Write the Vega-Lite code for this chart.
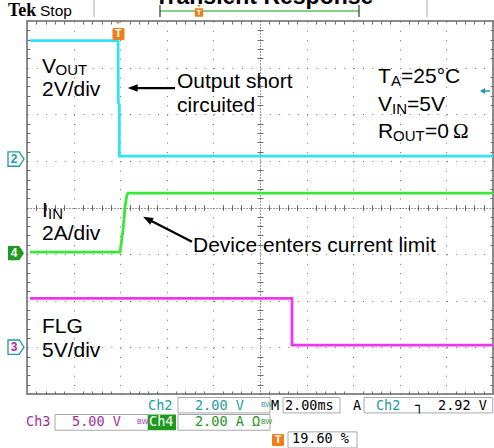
{
"$schema": "https://vega.github.io/schema/vega-lite/v6.json",
"width": 466, "height": 373,
"autosize": {"type": "none"},
"padding": {"left": 27, "top": 21, "right": 1, "bottom": 54},
"background": "white",
"config": {"view": {"stroke": "#8c8c8c", "strokeWidth": 2}},
"encoding": {
  "x": {"field": "x", "type": "quantitative", "scale": {"domain": [0, 10], "nice": false, "zero": false},
    "axis": {"orient": "bottom", "title": null, "labels": false, "ticks": false, "domain": false, "grid": true, "gridWidth": 1,
      "values": [0,0.2,0.4,0.6,0.8,1,1.2,1.4,1.6,1.8,2,2.2,2.4,2.6,2.8,3,3.2,3.4,3.6,3.8,4,4.2,4.4,4.6,4.8,5,5.2,5.4,5.6,5.8,6,6.2,6.4,6.6,6.8,7,7.2,7.4,7.6,7.8,8,8.2,8.4,8.6,8.8,9,9.2,9.4,9.6,9.8,10],
      "gridColor": {"condition": {"test": "abs(datum.value-5)<0.01", "value": "#333333"}, "value": "#6f6f6f"},
      "gridDash": {"condition": [{"test": "abs(datum.value-5)<0.01", "value": [1, 2]}, {"test": "abs(datum.value-round(datum.value))<0.01", "value": [1, 8.32]}], "value": [3, 180.5, 6, 180.5, 3, 400]}}},
  "y": {"field": "y", "type": "quantitative", "scale": {"domain": [0, 8], "nice": false, "zero": false},
    "axis": {"orient": "left", "title": null, "labels": false, "ticks": false, "domain": false, "grid": true, "gridWidth": 1,
      "values": [0,0.2,0.4,0.6,0.8,1,1.2,1.4,1.6,1.8,2,2.2,2.4,2.6,2.8,3,3.2,3.4,3.6,3.8,4,4.2,4.4,4.6,4.8,5,5.2,5.4,5.6,5.8,6,6.2,6.4,6.6,6.8,7,7.2,7.4,7.6,7.8,8],
      "gridColor": {"condition": {"test": "abs(datum.value-4)<0.01", "value": "#333333"}, "value": "#6f6f6f"},
      "gridDash": {"condition": [{"test": "abs(datum.value-4)<0.01", "value": [1, 2]}, {"test": "abs(datum.value-round(datum.value))<0.01", "value": [1, 8.32]}], "value": [3, 227, 6, 227, 3, 400]}}}
},
"layer": [
  {
    "data": {"values": [
      {"x": -0.408, "y": 8.107, "t": "Tek"}
    ]},
    "mark": {"type": "text", "font": "Liberation Serif", "fontWeight": "bold", "fontSize": 18, "align": "left", "baseline": "alphabetic", "color": "#000"},
    "encoding": {"text": {"field": "t"}}
  },
  {
    "data": {"values": [
      {"x": 0.279, "y": 8.107, "t": "Stop"}
    ]},
    "mark": {"type": "text", "font": "Liberation Sans", "fontSize": 15.5, "align": "left", "baseline": "alphabetic", "color": "#000"},
    "encoding": {"text": {"field": "t"}}
  },
  {
    "data": {"values": [
      {"x": 5.087, "y": 8.36, "t": "Transient Response"}
    ]},
    "mark": {"type": "text", "font": "Liberation Sans", "fontWeight": "bold", "fontSize": 23, "align": "center", "baseline": "alphabetic", "color": "#000"},
    "encoding": {"text": {"field": "t"}}
  },
  {
    "data": {"values": [
      {"x": 1.438, "y": 8.451, "x2": 1.438, "y2": 8.086},
      {"x": 8.584, "y": 8.451, "x2": 8.584, "y2": 8.086}
    ]},
    "mark": {"type": "rule", "color": "#aaaaaa", "strokeWidth": 1},
    "encoding": {"x2": {"field": "x2"}, "y2": {"field": "y2"}}
  },
  {
    "data": {"values": [
      {"x": 2.854, "y": 8.215, "x2": 7.124, "y2": 8.215}
    ]},
    "mark": {"type": "rule", "color": "#5cc25c", "strokeWidth": 1.5},
    "encoding": {"x2": {"field": "x2"}, "y2": {"field": "y2"}}
  },
  {
    "data": {"values": [
      {"x": 2.854, "y": 8.343, "x2": 2.854, "y2": 8.086},
      {"x": 7.124, "y": 8.343, "x2": 7.124, "y2": 8.086}
    ]},
    "mark": {"type": "rule", "color": "#333333", "strokeWidth": 1.2},
    "encoding": {"x2": {"field": "x2"}, "y2": {"field": "y2"}}
  },
  {
    "data": {"values": [
      {"x": 3.240, "x2": 5.215, "y": -0.075, "y2": -0.406},
      {"x": 5.494, "x2": 6.717, "y": -0.075, "y2": -0.406},
      {"x": 7.232, "x2": 9.994, "y": -0.075, "y2": -0.406},
      {"x": 0.601, "x2": 2.597, "y": -0.440, "y2": -0.777},
      {"x": 3.240, "x2": 5.215, "y": -0.440, "y2": -0.777},
      {"x": 5.601, "x2": 7.082, "y": -0.813, "y2": -1.157}
    ]},
    "mark": {"type": "rect", "fill": "#ffffff", "stroke": "#a8a8a8", "strokeWidth": 1},
    "encoding": {"x2": {"field": "x2"}, "y2": {"field": "y2"}}
  },
  {
    "data": {"values": [
      {"x": 2.597, "x2": 3.197, "y": -0.440, "y2": -0.777}
    ]},
    "mark": {"type": "rect", "fill": "#1e9a1e"},
    "encoding": {"x2": {"field": "x2"}, "y2": {"field": "y2"}}
  },
  {
    "data": {"values": [
      {"x": 2.597, "y": -0.337, "t": "Ch2", "c": "t2"},
      {"x": 3.605, "y": -0.337, "t": "2.00 V", "c": "t2"},
      {"x": 5.236, "y": -0.337, "t": "M", "c": "k"},
      {"x": 5.536, "y": -0.337, "t": "2.00ms", "c": "k"},
      {"x": 6.996, "y": -0.337, "t": "A", "c": "k"},
      {"x": 7.489, "y": -0.337, "t": "Ch2", "c": "t2"},
      {"x": 8.326, "y": -0.337, "t": "┐", "c": "k"},
      {"x": 8.820, "y": -0.337, "t": "2.92 V", "c": "k"},
      {"x": -0.021, "y": -0.691, "t": "Ch3", "c": "t3"},
      {"x": 0.966, "y": -0.691, "t": "5.00 V", "c": "t3"},
      {"x": 2.618, "y": -0.691, "t": "Ch4", "c": "w"},
      {"x": 3.605, "y": -0.691, "t": "2.00 A Ω", "c": "t4"},
      {"x": 5.687, "y": -1.056, "t": "19.60 %", "c": "k"}
    ]},
    "mark": {"type": "text", "font": "DejaVu Sans Mono", "fontSize": 13.5, "align": "left", "baseline": "alphabetic"},
    "encoding": {"text": {"field": "t"},
      "color": {"field": "c", "type": "nominal", "legend": null, "scale": {"domain": ["ch2","ch4","ch3","t2","t3","t4","k","w"], "range": ["#2fe4f0","#38e838","#f035f0","#1f9aa6","#a52ca5","#1c961c","#000000","#ffffff"]}}}
  },
  {
    "data": {"values": [
      {"x": 5.02, "y": -0.283, "t": "BW", "c": "t2"},
      {"x": 2.361, "y": -0.648, "t": "BW", "c": "t3"},
      {"x": 5.02, "y": -0.648, "t": "BW", "c": "t4"}
    ]},
    "mark": {"type": "text", "font": "Liberation Sans", "fontSize": 7, "align": "left", "baseline": "alphabetic"},
    "encoding": {"text": {"field": "t"},
      "color": {"field": "c", "type": "nominal", "legend": null, "scale": {"domain": ["ch2","ch4","ch3","t2","t3","t4","k","w"], "range": ["#2fe4f0","#38e838","#f035f0","#1f9aa6","#a52ca5","#1c961c","#000000","#ffffff"]}}}
  },
  {
    "data": {"values": [
      {"x": 0.322, "y": 6.884, "t": "V"},
      {"x": 0.322, "y": 6.391, "t": "2V/div"},
      {"x": 3.219, "y": 6.562, "t": "Output short"},
      {"x": 3.219, "y": 6.058, "t": "circuited"},
      {"x": 7.532, "y": 6.670, "t": "T"},
      {"x": 8.026, "y": 6.670, "t": "=25°C"},
      {"x": 7.532, "y": 6.069, "t": "V"},
      {"x": 8.155, "y": 6.069, "t": "=5V"},
      {"x": 7.532, "y": 5.489, "t": "R"},
      {"x": 8.541, "y": 5.489, "t": "=0"},
      {"x": 0.322, "y": 3.800, "t": "I"},
      {"x": 0.322, "y": 3.300, "t": "2A/div"},
      {"x": 3.562, "y": 3.049, "t": "Device enters current limit"},
      {"x": 0.322, "y": 1.305, "t": "FLG"},
      {"x": 0.322, "y": 0.790, "t": "5V/div"}
    ]},
    "mark": {"type": "text", "font": "Liberation Sans", "fontSize": 21, "align": "left", "baseline": "alphabetic", "color": "#000"},
    "encoding": {"text": {"field": "t"}}
  },
  {
    "data": {"values": [
      {"x": 9.142, "y": 5.489, "t": "Ω"}
    ]},
    "mark": {"type": "text", "font": "Liberation Serif", "fontSize": 21, "align": "left", "baseline": "alphabetic", "color": "#000"},
    "encoding": {"text": {"field": "t"}}
  },
  {
    "data": {"values": [
      {"x": 0.612, "y": 6.841, "t": "OUT"},
      {"x": 7.811, "y": 6.605, "t": "A"},
      {"x": 7.833, "y": 6.015, "t": "IN"},
      {"x": 7.854, "y": 5.436, "t": "OUT"},
      {"x": 0.451, "y": 3.751, "t": "IN"}
    ]},
    "mark": {"type": "text", "font": "Liberation Sans", "fontSize": 15, "align": "left", "baseline": "alphabetic", "color": "#000"},
    "encoding": {"text": {"field": "t"}}
  },
  {
    "data": {"values": [
      {"x": 3.176, "y": 6.562, "x2": 2.296, "y2": 6.562},
      {"x": 3.541, "y": 3.264, "x2": 2.597, "y2": 3.747}
    ]},
    "mark": {"type": "rule", "color": "#000", "strokeWidth": 2.2},
    "encoding": {"x2": {"field": "x2"}, "y2": {"field": "y2"}}
  },
  {
    "data": {"values": [{"x": 2.268, "y": 6.562}]},
    "mark": {"type": "point", "shape": "M0,-1 L0.75,1 L-0.75,1 Z", "size": 100, "angle": 270, "filled": true, "fill": "#000", "opacity": 1}
  },
  {
    "data": {"values": [{"x": 2.586, "y": 3.751}]},
    "mark": {"type": "point", "shape": "M0,-1 L0.75,1 L-0.75,1 Z", "size": 100, "angle": 297, "filled": true, "fill": "#000", "opacity": 1}
  },
  {
    "data": {"values": [
      {"ch": "ch2", "x": 0.064, "y": 7.58},
      {"ch": "ch2", "x": 1.955, "y": 7.58},
      {"ch": "ch2", "x": 1.959, "y": 6.27},
      {"ch": "ch2", "x": 1.981, "y": 6.2},
      {"ch": "ch2", "x": 1.981, "y": 5.10},
      {"ch": "ch2", "x": 10, "y": 5.10},
      {"ch": "ch4", "x": 0.064, "y": 3.043},
      {"ch": "ch4", "x": 1.996, "y": 3.043},
      {"ch": "ch4", "x": 2.060, "y": 3.515},
      {"ch": "ch4", "x": 2.103, "y": 4.009},
      {"ch": "ch4", "x": 2.135, "y": 4.223},
      {"ch": "ch4", "x": 2.167, "y": 4.309},
      {"ch": "ch4", "x": 10, "y": 4.309},
      {"ch": "ch3", "x": 0.064, "y": 2.049},
      {"ch": "ch3", "x": 5.687, "y": 2.049},
      {"ch": "ch3", "x": 5.687, "y": 1.047},
      {"ch": "ch3", "x": 10, "y": 1.047}
    ]},
    "mark": {"type": "line", "strokeWidth": 2.8, "interpolate": "linear"},
    "encoding": {
      "order": {"value": null},
      "color": {"field": "ch", "type": "nominal", "legend": null, "scale": {"domain": ["ch2","ch4","ch3","t2","t3","t4","k","w"], "range": ["#2fe4f0","#38e838","#f035f0","#1f9aa6","#a52ca5","#1c961c","#000000","#ffffff"]}}}
  },
  {
    "data": {"values": [
      {"x": -0.236, "y": 5.039},
      {"x": -0.236, "y": 1.004}
    ]},
    "mark": {"type": "point", "shape": "M-1,-0.9 L0.4,-0.9 L1,0 L0.4,0.9 L-1,0.9 Z", "size": 256, "filled": true, "fill": "#ffffff", "opacity": 1, "strokeWidth": 1.3, "stroke": "#1f9aa6"}
  },
  {
    "data": {"values": [
      {"x": -0.236, "y": 3.021}
    ]},
    "mark": {"type": "point", "shape": "M-1,-0.9 L0.4,-0.9 L1,0 L0.4,0.9 L-1,0.9 Z", "size": 256, "filled": true, "fill": "#1e9a1e", "opacity": 1}
  },
  {
    "data": {"values": [
      {"x": -0.279, "y": 5.039, "t": "2", "c": "t2"},
      {"x": -0.279, "y": 3.021, "t": "4", "c": "w"},
      {"x": -0.279, "y": 1.004, "t": "3", "c": "t3"}
    ]},
    "mark": {"type": "text", "font": "Liberation Sans", "fontWeight": "bold", "fontSize": 12, "align": "center", "baseline": "middle"},
    "encoding": {"text": {"field": "t"},
      "color": {"field": "c", "type": "nominal", "legend": null, "scale": {"domain": ["ch2","ch4","ch3","t2","t3","t4","k","w"], "range": ["#2fe4f0","#38e838","#f035f0","#1f9aa6","#a52ca5","#1c961c","#000000","#ffffff"]}}}
  },
  {
    "data": {"values": [{"x": 9.828, "y": 6.498}]},
    "mark": {"type": "point", "shape": "M-1,0 L0,-0.6 L0,-0.15 L1,-0.15 L1,0.15 L0,0.15 L0,0.6 Z", "size": 100, "filled": true, "fill": "#1f9aa6", "opacity": 1}
  },
  {
    "data": {"values": [{"x": 1.953, "y": 7.957}, {"x": 3.691, "y": 8.322}]},
    "mark": {"type": "point", "shape": "M-1,-0.5 L1,-0.5 L0,0.5 Z", "size": 16, "filled": true, "fill": "#f07d1c", "opacity": 1}
  },
  {
    "data": {"values": [{"x": 1.963, "y": 7.721}, {"x": 5.386, "y": -0.985}]},
    "mark": {"type": "point", "shape": "M-0.85,-1 L0.85,-1 L1,-0.85 L1,0.85 L0.85,1 L-0.85,1 L-1,0.85 L-1,-0.85 Z", "size": 144, "filled": true, "fill": "#f07d1c", "opacity": 1}
  },
  {
    "data": {"values": [{"x": 3.691, "y": 8.182}]},
    "mark": {"type": "point", "shape": "M-0.85,-1 L0.85,-1 L1,-0.85 L1,0.85 L0.85,1 L-0.85,1 L-1,0.85 L-1,-0.85 Z", "size": 72, "filled": true, "fill": "#f07d1c", "opacity": 1}
  },
  {
    "data": {"values": [{"x": 1.963, "y": 7.721}, {"x": 5.386, "y": -0.985}]},
    "mark": {"type": "text", "font": "Liberation Sans", "fontWeight": "bold", "fontSize": 11, "align": "center", "baseline": "middle", "color": "#ffffff", "text": "T"}
  },
  {
    "data": {"values": [{"x": 3.691, "y": 8.182}]},
    "mark": {"type": "text", "font": "Liberation Sans", "fontWeight": "bold", "fontSize": 8, "align": "center", "baseline": "middle", "color": "#ffffff", "text": "T"}
  }
]
}
